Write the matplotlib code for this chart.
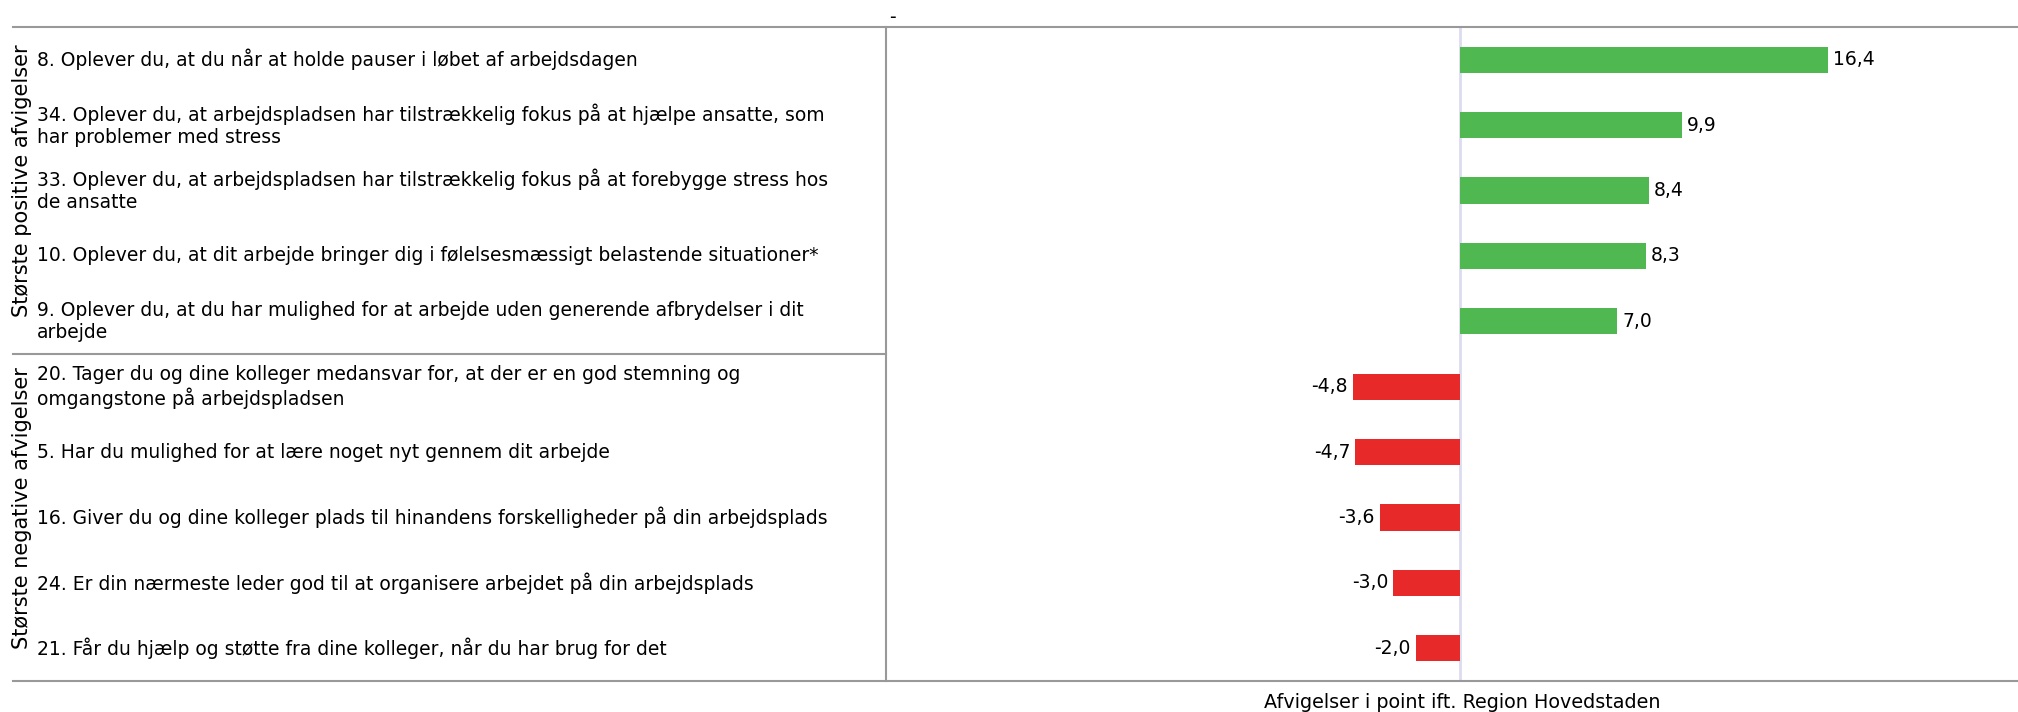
import matplotlib
matplotlib.use("Agg")
import matplotlib.pyplot as plt
from matplotlib.lines import Line2D
from matplotlib.transforms import blended_transform_factory

plt.rcParams["font.family"] = ["DejaVu Sans"]

questions = [
    "8. Oplever du, at du når at holde pauser i løbet af arbejdsdagen",
    "34. Oplever du, at arbejdspladsen har tilstrækkelig fokus på at hjælpe ansatte, som\nhar problemer med stress",
    "33. Oplever du, at arbejdspladsen har tilstrækkelig fokus på at forebygge stress hos\nde ansatte",
    "10. Oplever du, at dit arbejde bringer dig i følelsesmæssigt belastende situationer*",
    "9. Oplever du, at du har mulighed for at arbejde uden generende afbrydelser i dit\narbejde",
    "20. Tager du og dine kolleger medansvar for, at der er en god stemning og\nomgangstone på arbejdspladsen",
    "5. Har du mulighed for at lære noget nyt gennem dit arbejde",
    "16. Giver du og dine kolleger plads til hinandens forskelligheder på din arbejdsplads",
    "24. Er din nærmeste leder god til at organisere arbejdet på din arbejdsplads",
    "21. Får du hjælp og støtte fra dine kolleger, når du har brug for det",
]
values = [16.4, 9.9, 8.4, 8.3, 7.0, -4.8, -4.7, -3.6, -3.0, -2.0]
groups = ["Største positive afvigelser", "Største negative afvigelser"]
group_size = 5
title = "-"
xlabel = "Afvigelser i point ift. Region Hovedstaden"

green = "#50b850"
red = "#e8292a"
line_col = "#999999"
fs = 13.5

W, H = 2018, 712
fig = plt.figure(figsize=(W / 100, H / 100), dpi=100)
ax = fig.add_axes([886 / W, (H - 681) / H, (W - 886) / W, (681 - 27) / H])

n = len(values)
ypos = list(range(n))
colors = [green if v >= 0 else red for v in values]
ax.barh(ypos, values, height=0.4, color=colors, zorder=2)
ax.axvline(0, color="#dcdcf0", lw=2, zorder=1)
ax.set_xlim(-25.65, 24.9)
ax.set_ylim(n - 0.5, -0.5)
ax.set_xticks([])
ax.set_yticks([])
for s in ax.spines.values():
    s.set_visible(False)

for y, v in zip(ypos, values):
    lab = f"{v:.1f}".replace(".", ",")
    if v >= 0:
        ax.text(v + 0.22, y, lab, va="center", ha="left", fontsize=fs)
    else:
        ax.text(v - 0.22, y, lab, va="center", ha="right", fontsize=fs)

# question labels on the left, x in figure coords, y in data coords
tr = blended_transform_factory(fig.transFigure, ax.transData)
for y, q in zip(ypos, questions):
    ax.text(37 / W, y, q, transform=tr, ha="left", va="center", fontsize=fs,
            linespacing=1.2, clip_on=False)

# group labels
for i, g in enumerate(groups):
    yc = i * group_size + (group_size - 1) / 2 - 0.15
    ax.text(22 / W, yc, g, transform=tr, rotation=90, ha="center", va="center",
            fontsize=15, clip_on=False)

# frame lines
fig.add_artist(Line2D([13 / W, 1], [(H - 27) / H] * 2, color=line_col, lw=1.5))
fig.add_artist(Line2D([13 / W, 1], [(H - 681) / H] * 2, color=line_col, lw=1.5))
fig.add_artist(Line2D([886 / W] * 2, [(H - 681) / H, (H - 27) / H], color=line_col, lw=1.5))
ax.plot([13 / W, 886 / W], [group_size - 0.5] * 2, transform=tr, color=line_col,
        lw=1.5, clip_on=False)

fig.text(892 / W, (H - 17) / H, title, ha="center", va="center", fontsize=fs)
fig.text(1462 / W, (H - 702) / H, xlabel, ha="center", va="center", fontsize=13.8)

fig.savefig("out.png", dpi=100)
